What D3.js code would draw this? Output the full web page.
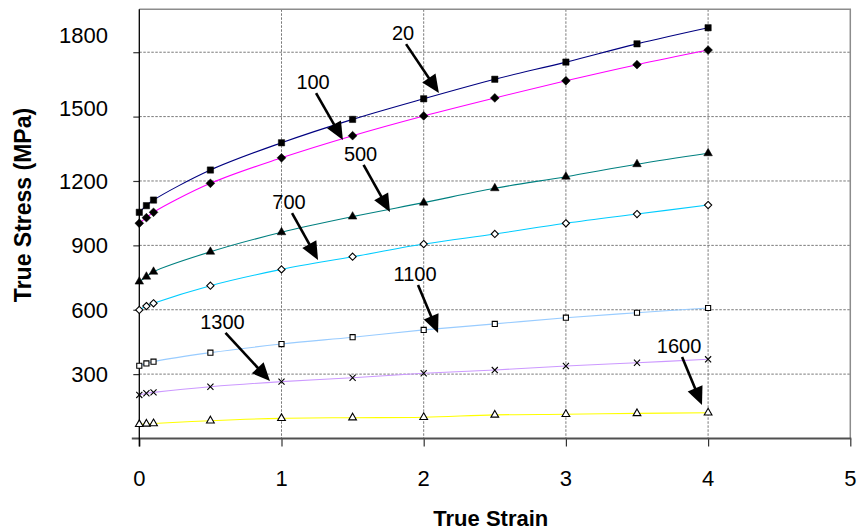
<!DOCTYPE html>
<html>
<head>
<meta charset="utf-8">
<script src="https://cdn.jsdelivr.net/npm/d3@7"></script>
<style>
  html, body { margin: 0; padding: 0; background: #fff; }
  svg { display: block; font-family: "Liberation Sans", Arial, sans-serif; }
</style>
</head>
<body>
<svg id="chart" width="859" height="531"></svg>
<script>
// True strain sample points shared by every curve
const strain = [0, 0.05, 0.1, 0.5, 1, 1.5, 2, 2.5, 3, 3.5, 4];

// Test temperatures (curve labels)
const temperatures = ["20", "100", "500", "700", "1100", "1300", "1600"];

// True stress (MPa) for each temperature
const stress20   = [1054, 1085, 1111, 1251, 1378, 1487, 1583, 1674, 1754, 1839, 1914];
const stress100  = [1003, 1029, 1054, 1189, 1308, 1411, 1503, 1587, 1667, 1742, 1810];
const stress500  = [731, 754, 777, 870, 961, 1034, 1099, 1166, 1220, 1278, 1329];
const stress700  = [599, 617, 630, 712, 788, 847, 906, 953, 1003, 1046, 1088];
const stress1100 = [339, 350, 358, 400, 440, 472, 506, 534, 563, 586, 608];
const stress1300 = [203, 211, 215, 241, 265, 283, 304, 319, 338, 353, 369];
const stress1600 = [66, 68, 70, 83, 94, 97, 99, 110, 113, 117, 120];

const stressSeries = [stress20, stress100, stress500, stress700, stress1100, stress1300, stress1600];

// Axis ticks
const xTicks = [0, 1, 2, 3, 4, 5];
const yTicks = [300, 600, 900, 1200, 1500, 1800];

// Curve callouts: label centre and arrow tip, in strain / stress units
const calloutLabelX = [1.855, 1.222, 1.556, 1.053, 1.939, 0.585, 3.796];
const calloutLabelY = [1889, 1661, 1326, 1102, 767, 543, 431];
const calloutTipX   = [2.107, 1.432, 1.763, 1.257, 2.101, 0.919, 3.957];
const calloutTipY   = [1610, 1391, 1055, 832, 492, 268, 156];

// Styling per curve
const lineColors = ["#000080", "#ff00ff", "#008080", "#00ccff", "#99ccff", "#cc99ff", "#ffff00"];
const markerKinds = ["square", "diamond", "triangle", "diamondOpen", "squareOpen", "cross", "triangleOpen"];

const svg = d3.select("#chart");
const plotLeft = 139.3, plotRight = 850.3, plotTop = 9.3, plotBottom = 438.5;

const x = d3.scaleLinear().domain([0, 5]).range([plotLeft, plotRight]);
const y = d3.scaleLinear().domain([0, 2000]).range([plotBottom, plotTop]);

// Grid
const grid = svg.append("g");
grid.selectAll("line.h").data(yTicks).join("line")
  .attr("class", "h")
  .attr("x1", plotLeft).attr("x2", plotRight)
  .attr("y1", d => y(d)).attr("y2", d => y(d))
  .attr("stroke", "#7a7a7a").attr("stroke-width", 1).attr("stroke-dasharray", "2.5,1.5");
grid.selectAll("line.v").data(xTicks.slice(1, -1)).join("line")
  .attr("class", "v")
  .attr("x1", d => x(d)).attr("x2", d => x(d))
  .attr("y1", plotTop).attr("y2", plotBottom)
  .attr("stroke", "#7a7a7a").attr("stroke-width", 1).attr("stroke-dasharray", "2.5,1.5");

// Plot frame (top and right)
svg.append("path")
  .attr("d", `M${plotLeft},${plotTop}H${plotRight}V${plotBottom}`)
  .attr("fill", "none").attr("stroke", "#8c8c8c").attr("stroke-width", 1.5);

// X axis
const xAxis = d3.axisBottom(x).tickValues(xTicks).tickSize(8).tickFormat("");
const gx = svg.append("g").attr("transform", `translate(0,${plotBottom})`).call(xAxis);
gx.select(".domain").remove();
gx.selectAll(".tick line").attr("stroke", "#333").attr("stroke-width", 1.2);
svg.append("line")
  .attr("x1", plotLeft - 7.5).attr("x2", plotRight + 1)
  .attr("y1", plotBottom).attr("y2", plotBottom)
  .attr("stroke", "#505050").attr("stroke-width", 2);

// Y axis
const yAxis = d3.axisLeft(y).tickValues(yTicks).tickSize(6).tickFormat("");
const gy = svg.append("g").attr("transform", `translate(${plotLeft},0)`).call(yAxis);
gy.select(".domain").remove();
gy.selectAll(".tick line").attr("stroke", "#333").attr("stroke-width", 1.2);
svg.append("line")
  .attr("x1", plotLeft).attr("x2", plotLeft)
  .attr("y1", plotTop).attr("y2", plotBottom + 8)
  .attr("stroke", "#000").attr("stroke-width", 1.3);

// Tick labels
svg.append("g").selectAll("text").data(xTicks).join("text")
  .attr("x", d => x(d)).attr("y", 478).attr("dy", "0.36em")
  .attr("text-anchor", "middle").attr("font-size", 22).attr("fill", "#000")
  .text(d => d);

// upper labels sit slightly above their grid lines
const labelLift = d3.scaleLinear().domain([1200, 1800]).range([0, -17]).clamp(true);
svg.append("g").selectAll("text").data(yTicks).join("text")
  .attr("x", 108).attr("y", d => y(d) + labelLift(d)).attr("dy", "0.36em")
  .attr("text-anchor", "end").attr("font-size", 22).attr("fill", "#000")
  .text(d => d);

// Axis titles
svg.append("text")
  .attr("x", (plotLeft + plotRight) / 2 - 4).attr("y", 526)
  .attr("text-anchor", "middle").attr("font-size", 22).attr("font-weight", "bold")
  .text("True Strain");
svg.append("text")
  .attr("transform", "translate(30.5,205) rotate(-90)")
  .attr("text-anchor", "middle").attr("font-size", 23).attr("font-weight", "bold")
  .text("True Stress (MPa)");

// Curves
const line = d3.line().x((d, i) => x(strain[i])).y(d => y(d)).curve(d3.curveCatmullRom.alpha(0.5));
svg.append("g").selectAll("path").data(stressSeries).join("path")
  .attr("d", d => line(d))
  .attr("fill", "none")
  .attr("stroke", (d, i) => lineColors[i])
  .attr("stroke-width", 1.1);

// Markers (diamonds are squares turned 45 degrees)
const rhombus = r => `M0,${-r}L${r},0L0,${r}L${-r},0Z`;
const symbolPaths = {
  square: d3.symbol(d3.symbolSquare, 40)(),
  diamond: rhombus(4.4),
  triangle: d3.symbol(d3.symbolTriangle, 32)(),
  diamondOpen: rhombus(3.6),
  squareOpen: d3.symbol(d3.symbolSquare, 26)(),
  cross: d3.symbol(d3.symbolX, 26)(),
  triangleOpen: d3.symbol(d3.symbolTriangle, 26)()
};
stressSeries.forEach((vals, si) => {
  const kind = markerKinds[si];
  const open = kind.endsWith("Open") || kind === "cross";
  svg.append("g").selectAll("path").data(vals).join("path")
    .attr("transform", (d, i) => `translate(${x(strain[i])},${y(d)})`)
    .attr("d", symbolPaths[kind])
    .attr("fill", open ? "#fff" : "#000")
    .attr("fill-opacity", kind === "cross" ? 0 : 1)
    .attr("stroke", "#000")
    .attr("stroke-width", open ? 1.1 : 0.5);
});

// Callouts: temperature label with an arrow pointing at its curve
const callouts = svg.append("g");
temperatures.forEach((t, i) => {
  const lx = x(calloutLabelX[i]), ly = y(calloutLabelY[i]);
  const tx = x(calloutTipX[i]), ty = y(calloutTipY[i]);
  callouts.append("text")
    .attr("x", lx).attr("y", ly).attr("dy", "0.36em")
    .attr("text-anchor", "middle").attr("font-size", 20).attr("fill", "#000")
    .text(t);
  // arrow starts just under the label
  const sx = lx + 3, sy = ly + 11;
  const dx = tx - sx, dy = ty - sy, len = Math.hypot(dx, dy);
  const ux = dx / len, uy = dy / len, nx = -uy, ny = ux;
  const headLen = 18, headHalf = 8;
  const bx = tx - ux * headLen, by = ty - uy * headLen;
  callouts.append("line")
    .attr("x1", sx).attr("y1", sy).attr("x2", bx + ux * 2).attr("y2", by + uy * 2)
    .attr("stroke", "#000").attr("stroke-width", 2.6);
  callouts.append("path")
    .attr("d", `M${tx},${ty}L${bx + nx * headHalf},${by + ny * headHalf}L${bx - nx * headHalf},${by - ny * headHalf}Z`)
    .attr("fill", "#000");
});
</script>
</body>
</html>
